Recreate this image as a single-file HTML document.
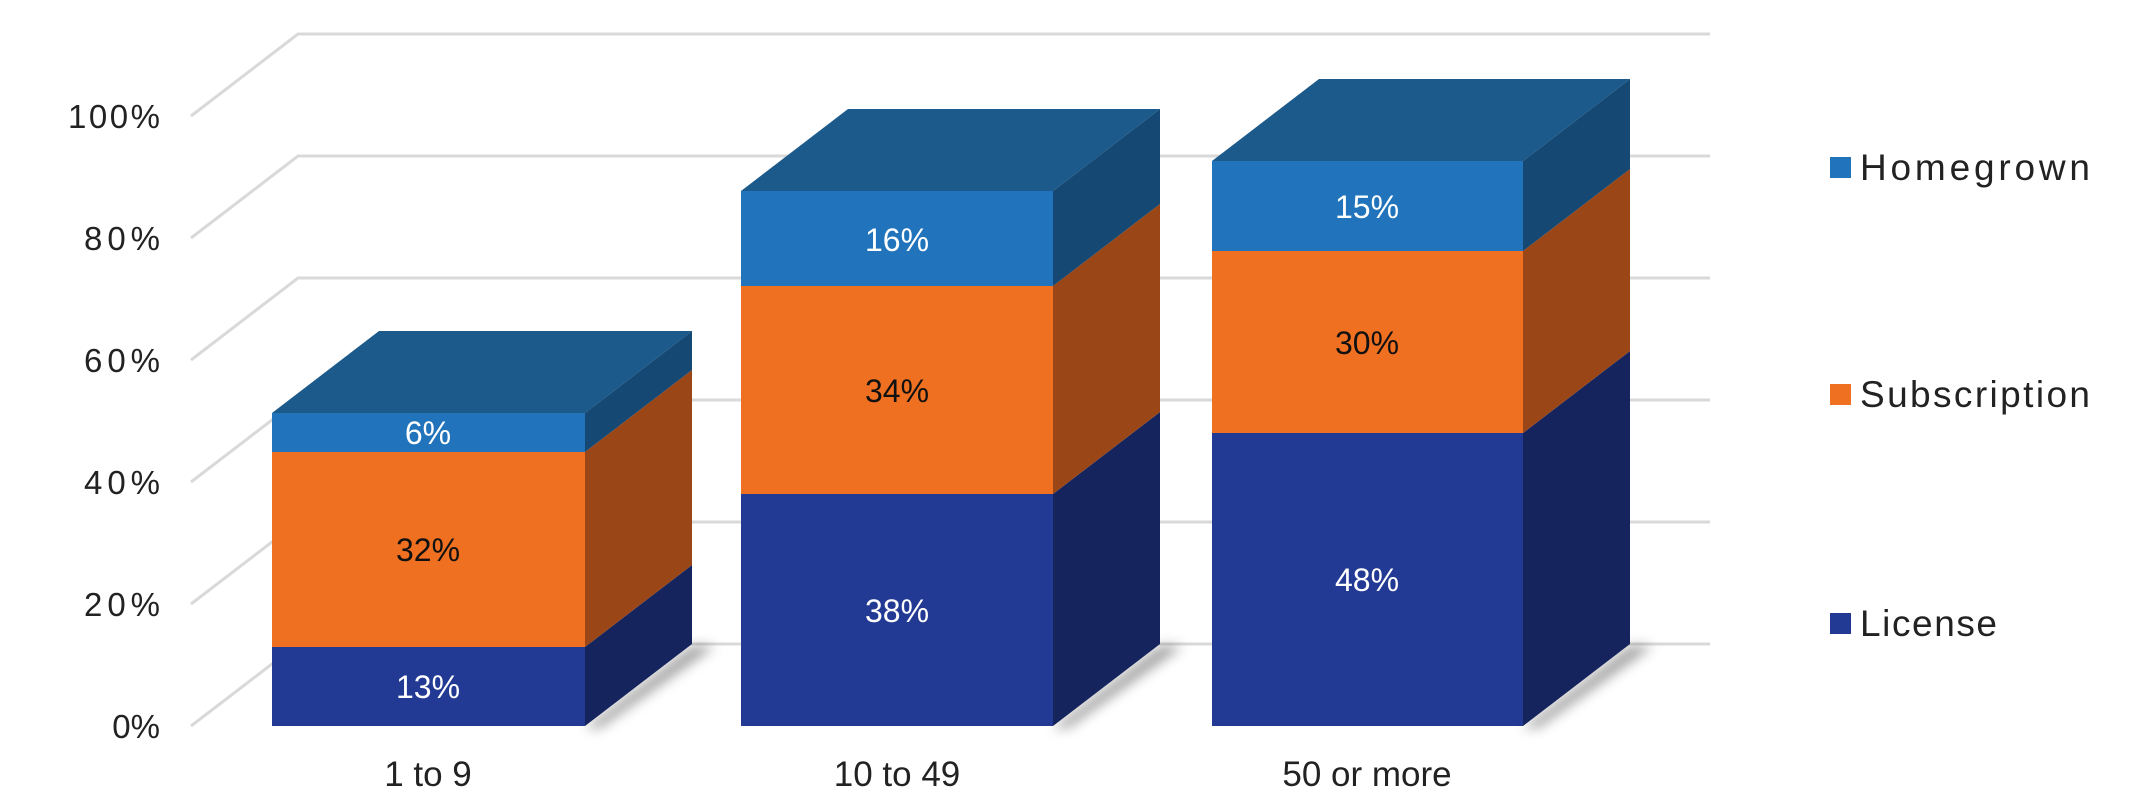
<!DOCTYPE html>
<html><head><meta charset="utf-8"><style>html,body{margin:0;padding:0;background:#fff}svg{display:block}</style></head><body>
<svg width="2145" height="810" viewBox="0 0 2145 810" xmlns="http://www.w3.org/2000/svg" font-family="'Liberation Sans', sans-serif">
<defs><filter id="b" x="-20%" y="-50%" width="140%" height="200%"><feGaussianBlur stdDeviation="6"/></filter></defs>
<g stroke="#d9d9d9" stroke-width="3" fill="none">
<path d="M191 726 L298 644 H1710"/><path d="M191 604 L298 522 H1710"/><path d="M191 482 L298 400 H1710"/>
<path d="M191 360 L298 278 H1710"/><path d="M191 238 L298 156 H1710"/><path d="M191 116 L298 34 H1710"/>
</g>
<g font-size="33" fill="#222" text-anchor="end">
<text x="160" y="738">0%</text><text x="160" y="616" textLength="76">20%</text><text x="160" y="494" textLength="76">40%</text>
<text x="160" y="372" textLength="76">60%</text><text x="160" y="250" textLength="76">80%</text><text x="160" y="128" textLength="92">100%</text>
</g>
<g fill="#555" opacity="0.55" filter="url(#b)">
<polygon points="250,728 585,728 692,646 715,646 600,728"/>
<polygon points="720,728 1053,728 1160,646 1183,646 1068,728"/>
<polygon points="1190,728 1523,728 1630,646 1653,646 1538,728"/>
</g>
<g>
<rect x="272" y="647" width="313" height="79" fill="#223a93"/>
<rect x="272" y="452" width="313" height="195" fill="#f07021"/>
<rect x="272" y="413" width="313" height="39" fill="#2174bb"/>
<polygon points="585,726 692,644 692,565 585,647" fill="#16245e"/>
<polygon points="585,647 692,565 692,370 585,452" fill="#9a4616"/>
<polygon points="585,452 692,370 692,331 585,413" fill="#154873"/>
<polygon points="272,413 379,331 692,331 585,413" fill="#1b5a8b"/>
</g>
<g>
<rect x="741" y="494" width="312" height="232" fill="#223a93"/>
<rect x="741" y="286" width="312" height="208" fill="#f07021"/>
<rect x="741" y="191" width="312" height="95" fill="#2174bb"/>
<polygon points="1053,726 1160,644 1160,412 1053,494" fill="#16245e"/>
<polygon points="1053,494 1160,412 1160,204 1053,286" fill="#9a4616"/>
<polygon points="1053,286 1160,204 1160,109 1053,191" fill="#154873"/>
<polygon points="741,191 848,109 1160,109 1053,191" fill="#1b5a8b"/>
</g>
<g>
<rect x="1212" y="433" width="311" height="293" fill="#223a93"/>
<rect x="1212" y="251" width="311" height="182" fill="#f07021"/>
<rect x="1212" y="161" width="311" height="90" fill="#2174bb"/>
<polygon points="1523,726 1630,644 1630,351 1523,433" fill="#16245e"/>
<polygon points="1523,433 1630,351 1630,169 1523,251" fill="#9a4616"/>
<polygon points="1523,251 1630,169 1630,79 1523,161" fill="#154873"/>
<polygon points="1212,161 1319,79 1630,79 1523,161" fill="#1b5a8b"/>
</g>
<g font-size="32" text-anchor="middle">
<text x="428" y="698" fill="#fff">13%</text>
<text x="428" y="561" fill="#111">32%</text>
<text x="428" y="444" fill="#fff">6%</text>
<text x="897" y="622" fill="#fff">38%</text>
<text x="897" y="402" fill="#111">34%</text>
<text x="897" y="251" fill="#fff">16%</text>
<text x="1367" y="591" fill="#fff">48%</text>
<text x="1367" y="354" fill="#111">30%</text>
<text x="1367" y="218" fill="#fff">15%</text>
</g>
<g font-size="35" fill="#222" text-anchor="middle">
<text x="428" y="786">1 to 9</text>
<text x="897" y="786">10 to 49</text>
<text x="1367" y="786">50 or more</text>
</g>
<rect x="1830" y="157" width="21" height="21" fill="#2174bb"/>
<rect x="1830" y="384" width="21" height="21" fill="#f07021"/>
<rect x="1830" y="613" width="21" height="21" fill="#223a93"/>
<g font-size="37" fill="#222">
<text x="1860" y="180" textLength="230">Homegrown</text>
<text x="1860" y="407" textLength="230">Subscription</text>
<text x="1860" y="636" textLength="137">License</text>
</g>
</svg>
</body></html>
